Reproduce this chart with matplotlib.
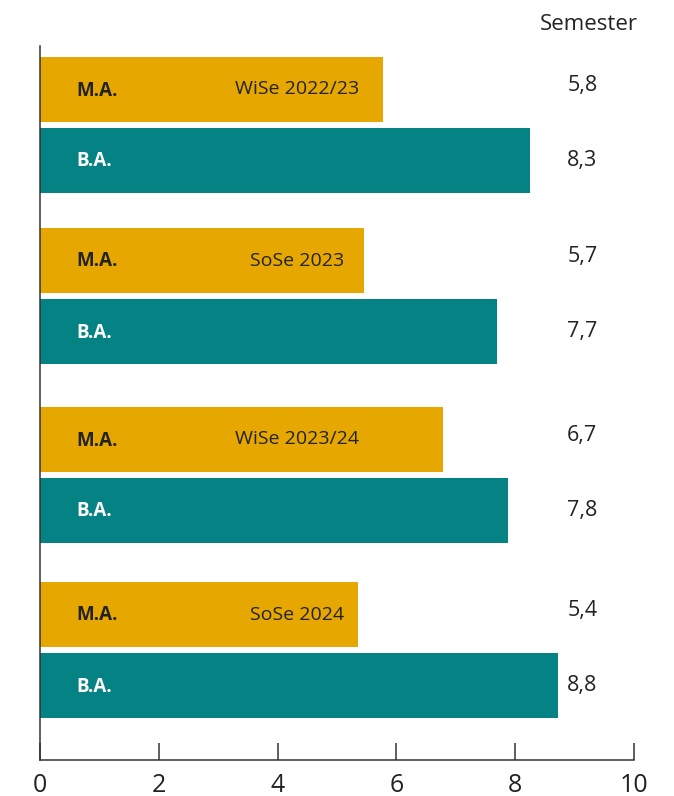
import matplotlib
matplotlib.use('Agg')
import matplotlib.pyplot as plt

# ── Data ──────────────────────────────────────────────────────────────────────
semesters  = ['WiSe 2022/23', 'SoSe 2023', 'WiSe 2023/24', 'SoSe 2024']
ma_len     = [5.77, 5.46, 6.78, 5.35]      # bar lengths as drawn
ba_len     = [8.25, 7.69, 7.88, 8.72]
ma_labels  = ['5,8', '5,7', '6,7', '5,4']
ba_labels  = ['8,3', '7,7', '7,8', '8,8']
xticks     = [0, 2, 4, 6, 8, 10]

GOLD = '#E6A800'
TEAL = '#058283'
DARK = '#222222'

plt.rcParams['font.family'] = ['Open Sans', 'DejaVu Sans']

fig = plt.figure(figsize=(6.74, 7.96), dpi=100, facecolor='white')
ax = fig.add_axes([40 / 674, 36 / 796, 594 / 674, 714 / 796])

# layout in pixel-like units from top of axes
group_y = [43.5, 214.5, 393.5, 568.5]
BAR_H, OFF = 65, 71
for i, sem in enumerate(semesters):
    y_ma = group_y[i]
    y_ba = y_ma + OFF
    ax.barh(y_ma, ma_len[i], height=BAR_H, color=GOLD, zorder=2)
    ax.barh(y_ba, ba_len[i], height=BAR_H, color=TEAL, zorder=2)
    ax.text(0.62, y_ma + 1, 'M.A.', ha='left', va='center', fontsize=13.5,
            fontweight='bold', color=DARK, zorder=3)
    ax.text(0.62, y_ba + 1, 'B.A.', ha='left', va='center', fontsize=13.5,
            fontweight='bold', color='white', zorder=3)
    ax.text(4.33, y_ma, sem, ha='center', va='center', fontsize=14,
            color=DARK, zorder=3)
    ax.text(9.13, y_ma - 4, ma_labels[i], ha='center', va='center',
            fontsize=15.5, color=DARK)
    ax.text(9.13, y_ba, ba_labels[i], ha='center', va='center',
            fontsize=15.5, color=DARK)

ax.text(10.07, -21, 'Semester', ha='right', va='center', fontsize=16,
        color=DARK, clip_on=False)

ax.set_xlim(0, 10)
ax.set_ylim(714, 0)
ax.set_xticks(xticks)
ax.set_xticklabels([str(t) for t in xticks], fontsize=18, color=DARK)
ax.set_yticks([])
ax.tick_params(axis='x', direction='in', length=12, width=1.1,
               color='#333333', pad=9)
for s in ['top', 'right']:
    ax.spines[s].set_visible(False)
for s in ['left', 'bottom']:
    ax.spines[s].set_color('#333333')
    ax.spines[s].set_linewidth(1.1)

fig.savefig('out.png', dpi=100, facecolor='white')
